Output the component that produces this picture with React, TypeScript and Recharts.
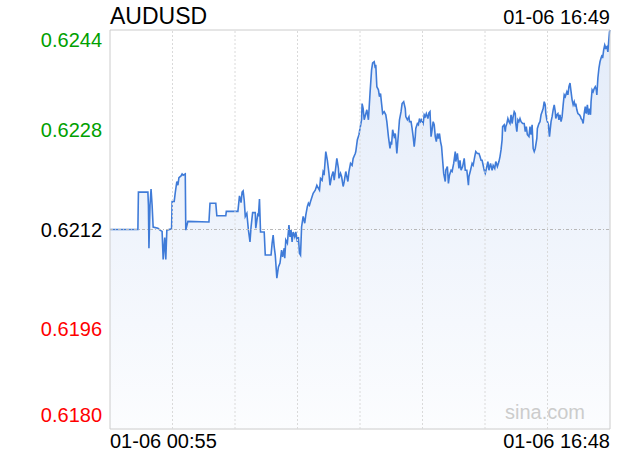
import React from 'react';
import { ComposedChart, Area, XAxis, YAxis, ReferenceLine, ReferenceArea } from 'recharts';

const symbol = 'AUDUSD';
const updateTime = '01-06 16:49';
const watermark = 'sina.com';
const prevClose = 0.6212;
const priceTicks = [0.618, 0.6196, 0.6212, 0.6228, 0.6244];
const timeTicks = [0, 950];
const timeTickLabels = ['01-06 00:55', '01-06 16:48'];
const gridTimes = [118.75, 237.5, 356.25, 475, 593.75, 712.5, 831.25];

// [minutes since 00:55, price]
const quotes: [number, number][] = [
  [0, 0.6212], [53, 0.6212], [54, 0.6218], [72, 0.6218], [73, 0.62159], [74, 0.6209], [76, 0.62159], [78, 0.62185],
  [80, 0.62159], [82, 0.62124], [91, 0.62122], [95, 0.62119], [99, 0.62117], [101, 0.62072], [104, 0.62107], [106, 0.62072],
  [108, 0.62119], [117, 0.62121], [118, 0.62165], [122, 0.62165], [124, 0.62179], [127, 0.62197], [129, 0.62191], [131, 0.62203],
  [135, 0.62206], [137, 0.62209], [139, 0.62207], [143, 0.62209], [144, 0.62119], [148, 0.62133], [188, 0.62132],
  [190, 0.62162], [201, 0.62162], [203, 0.62142], [220, 0.62142], [221, 0.62149], [243, 0.62149], [246, 0.62174], [249, 0.62163],
  [251, 0.6218], [253, 0.62182], [255, 0.62167], [257, 0.62141], [260, 0.62146], [263, 0.62119], [266, 0.621], [268, 0.62124],
  [271, 0.62147], [276, 0.62147], [277, 0.62122], [281, 0.62146], [282, 0.62141], [284, 0.62169], [286, 0.62116], [293, 0.62116],
  [295, 0.62079], [306, 0.62079], [308, 0.62098], [310, 0.62111], [312, 0.62092], [314, 0.62079], [317, 0.62042], [320, 0.6206],
  [323, 0.62066], [326, 0.62087], [328, 0.62076], [331, 0.6209], [332, 0.62074], [334, 0.62103], [337, 0.62098], [340, 0.62127],
  [342, 0.62108], [344, 0.62119], [346, 0.621], [348, 0.62116], [351, 0.62108], [353, 0.62116], [356, 0.621], [358, 0.62108],
  [360, 0.62082], [362, 0.62079], [364, 0.62124], [367, 0.62141], [370, 0.6213], [372, 0.62143], [375, 0.62157], [377, 0.62162],
  [379, 0.62159], [381, 0.62165], [386, 0.62178], [390, 0.62183], [393, 0.62191], [396, 0.62186], [398, 0.62183], [400, 0.62202],
  [403, 0.62199], [405, 0.62213], [407, 0.6221], [410, 0.62245], [413, 0.62231], [416, 0.6221], [418, 0.62191], [421, 0.62205],
  [424, 0.62213], [426, 0.62199], [431, 0.62234], [434, 0.62218], [435, 0.62202], [438, 0.6221], [440, 0.62205], [443, 0.62189],
  [445, 0.62197], [448, 0.62213], [450, 0.62205], [452, 0.62197], [454, 0.62213], [457, 0.62226], [460, 0.62223], [462, 0.62234],
  [466, 0.62242], [467, 0.62245], [470, 0.62264], [473, 0.62272], [475, 0.62282], [478, 0.62296], [479, 0.62322], [481, 0.62314],
  [483, 0.62296], [488, 0.62312], [491, 0.62296], [494, 0.62338], [497, 0.62376], [499, 0.62387], [502, 0.62389], [504, 0.62379],
  [505, 0.62384], [507, 0.62349], [510, 0.62344], [512, 0.62333], [514, 0.62338], [516, 0.62322], [518, 0.62306], [521, 0.62309],
  [524, 0.62304], [526, 0.62293], [529, 0.62269], [532, 0.6225], [534, 0.62261], [535, 0.62256], [537, 0.6228], [540, 0.62269],
  [542, 0.62274], [543, 0.62266], [545, 0.62242], [548, 0.62274], [550, 0.62296], [553, 0.62309], [555, 0.62322], [558, 0.62325],
  [561, 0.62314], [562, 0.62301], [565, 0.62296], [568, 0.62301], [569, 0.62293], [572, 0.62293], [574, 0.62282], [576, 0.62269],
  [578, 0.62253], [580, 0.62269], [581, 0.62282], [584, 0.6229], [586, 0.62288], [588, 0.62298], [590, 0.62293], [592, 0.62296],
  [595, 0.6229], [597, 0.62304], [599, 0.62301], [601, 0.62306], [604, 0.62298], [606, 0.62307], [608, 0.62309], [610, 0.62269],
  [612, 0.6228], [614, 0.62293], [616, 0.62288], [618, 0.62269], [620, 0.62261], [622, 0.62274], [624, 0.62266], [626, 0.62274],
  [628, 0.62261], [630, 0.62253], [632, 0.62231], [634, 0.6221], [637, 0.62197], [638, 0.62215], [641, 0.62221], [643, 0.62194],
  [645, 0.62207], [648, 0.62215], [650, 0.62213], [653, 0.62226], [656, 0.62245], [657, 0.62229], [660, 0.62242], [663, 0.62218],
  [665, 0.62231], [667, 0.62215], [670, 0.62221], [673, 0.62234], [675, 0.62215], [678, 0.62215], [681, 0.62191], [682, 0.62205],
  [685, 0.62215], [688, 0.62226], [690, 0.62223], [693, 0.62237], [695, 0.62245], [698, 0.62242], [701, 0.62242], [703, 0.62237],
  [705, 0.62231], [707, 0.62231], [709, 0.62223], [711, 0.62215], [713, 0.6221], [716, 0.62221], [718, 0.62229], [720, 0.62215],
  [723, 0.62226], [726, 0.62215], [728, 0.62223], [731, 0.62218], [733, 0.62229], [736, 0.62221], [739, 0.62229], [741, 0.62237],
  [743, 0.62248], [745, 0.62264], [746, 0.62285], [749, 0.62288], [751, 0.62277], [752, 0.62285], [754, 0.6229], [756, 0.62298],
  [758, 0.62293], [760, 0.6229], [762, 0.62304], [764, 0.6229], [766, 0.62301], [768, 0.62309], [770, 0.62306], [771, 0.6229],
  [773, 0.62277], [775, 0.62296], [777, 0.62293], [779, 0.62298], [781, 0.62293], [784, 0.6229], [787, 0.6229], [789, 0.62277],
  [791, 0.62285], [793, 0.62272], [796, 0.62269], [798, 0.62285], [800, 0.62272], [802, 0.62288], [804, 0.6225], [806, 0.62245],
  [808, 0.6225], [811, 0.62266], [812, 0.62282], [815, 0.6229], [817, 0.62293], [819, 0.62304], [821, 0.62309], [823, 0.62314],
  [825, 0.62325], [827, 0.6232], [828, 0.62306], [830, 0.62296], [833, 0.62288], [835, 0.62269], [836, 0.62277], [838, 0.62293],
  [840, 0.62301], [842, 0.62312], [844, 0.6232], [846, 0.62309], [847, 0.62298], [849, 0.62304], [851, 0.62306], [853, 0.62296],
  [855, 0.62304], [857, 0.62293], [859, 0.62301], [861, 0.6232], [863, 0.62336], [865, 0.62333], [868, 0.62341], [870, 0.62336],
  [872, 0.62349], [874, 0.62355], [876, 0.62341], [878, 0.62328], [880, 0.6232], [882, 0.62325], [884, 0.62317], [885, 0.62322],
  [887, 0.62312], [889, 0.62306], [892, 0.62304], [894, 0.62301], [895, 0.62298], [897, 0.62296], [899, 0.6229], [901, 0.62306],
  [903, 0.62317], [905, 0.62306], [907, 0.6232], [909, 0.62304], [911, 0.62314], [913, 0.62304], [914, 0.62325], [916, 0.62344],
  [918, 0.62341], [920, 0.62346], [922, 0.62349], [924, 0.62344], [925, 0.62336], [927, 0.62363], [929, 0.62379], [931, 0.62389],
  [933, 0.62395], [935, 0.624], [936, 0.62395], [938, 0.62408], [940, 0.62416], [942, 0.62411], [944, 0.62413], [946, 0.62405],
  [948, 0.62427], [949, 0.62437], [950, 0.6244],
];

const data = quotes.map(([t, p]) => ({ t, p }));

const FONT = '"Liberation Sans", Arial, Helvetica, sans-serif';
const EPS = 1e-9;

function YTick(props: any) {
  const { x, y, payload } = props;
  const v: number = payload.value;
  const color = v > prevClose + EPS ? '#00a000' : v < prevClose - EPS ? '#ff0000' : '#000000';
  let dy = 7;
  if (Math.abs(v - priceTicks[priceTicks.length - 1]) < EPS) dy = 17;
  if (Math.abs(v - priceTicks[0]) < EPS) dy = -7;
  return (
    <text x={x} y={y + dy} textAnchor="end" fill={color} fontSize={20} fontFamily={FONT}>
      {v.toFixed(4)}
    </text>
  );
}

function XTick(props: any) {
  const { x, y, index } = props;
  const anchor = index === 0 ? 'start' : 'end';
  return (
    <text x={x} y={y + 11} textAnchor={anchor} fill="#000" fontSize={20} fontFamily={FONT}>
      {timeTickLabels[index]}
    </text>
  );
}

export default function App() {
  return (
    <div style={{ position: 'absolute', left: 0, top: 0, width: 620, height: 460, background: '#fff' }}>
      <ComposedChart width={620} height={460} data={data} margin={{ top: 30, right: 10, bottom: 0, left: 0 }}>
        <defs>
          <linearGradient id="fillGrad" x1="0" y1="0" x2="0" y2="1">
            <stop offset="0%" stopColor="#3d78d8" stopOpacity={0.24} />
            <stop offset="100%" stopColor="#3d78d8" stopOpacity={0.03} />
          </linearGradient>
        </defs>
        <XAxis
          dataKey="t"
          type="number"
          domain={[0, 950]}
          ticks={timeTicks}
          interval={0}
          height={31}
          axisLine={false}
          tickLine={false}
          tickSize={6}
          tickMargin={2}
          tick={<XTick />}
        />
        <YAxis
          type="number"
          domain={[priceTicks[0], priceTicks[priceTicks.length - 1]]}
          ticks={priceTicks}
          interval={0}
          width={110}
          axisLine={false}
          tickLine={false}
          tickSize={6}
          tickMargin={2}
          tick={<YTick />}
        />
        {gridTimes.map((g) => (
          <ReferenceLine key={g} x={g} stroke="#dadada" strokeDasharray="2 2" />
        ))}
        <ReferenceLine y={prevClose} stroke="#b8b8b8" strokeDasharray="3 2 1 2" />
        <Area
          type="linear"
          dataKey="p"
          stroke="#3f7bd8"
          strokeWidth={1.6}
          fill="url(#fillGrad)"
          dot={false}
          activeDot={false}
          isAnimationActive={false}
        />
        <ReferenceArea
          x1={0}
          x2={950}
          y1={priceTicks[0]}
          y2={priceTicks[priceTicks.length - 1]}
          fill="none"
          stroke="#cccccc"
          strokeWidth={1}
          fillOpacity={0}
        />
      </ComposedChart>
      <svg width={620} height={460} style={{ position: 'absolute', left: 0, top: 0, pointerEvents: 'none' }}>
        <text x={110} y={24} fontSize={23} fontFamily={FONT} fill="#000">
          {symbol}
        </text>
        <text x={610} y={24} fontSize={20} fontFamily={FONT} fill="#000" textAnchor="end">
          {updateTime}
        </text>
        <text x={505} y={419} fontSize={20} fontFamily={FONT} fill="#cccccc">
          {watermark}
        </text>
      </svg>
    </div>
  );
}
